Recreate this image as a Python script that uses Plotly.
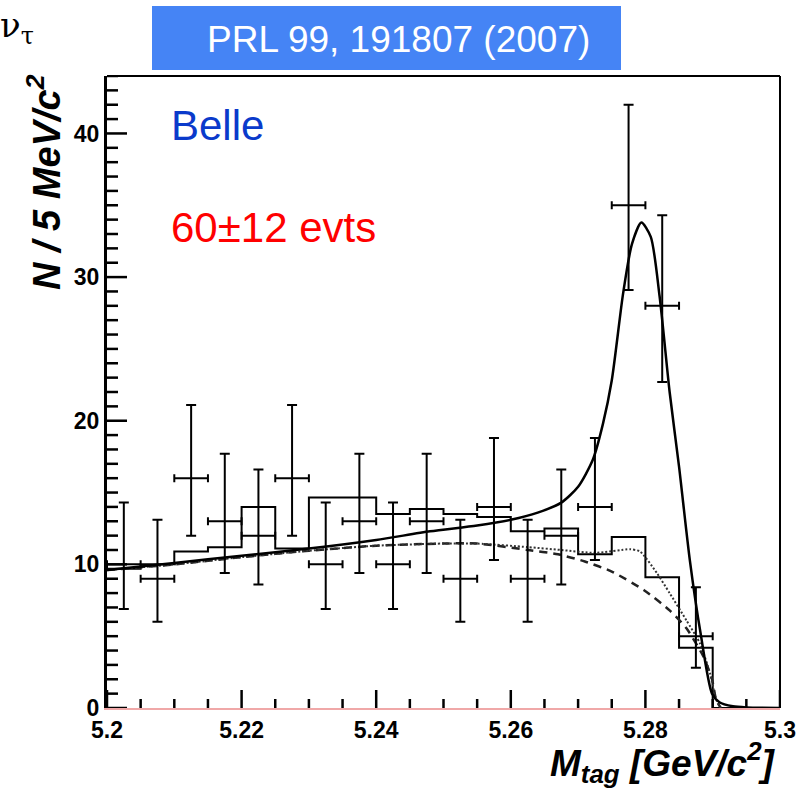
import plotly.graph_objects as go

# ---------------- data ----------------
# data points (bin centres, 5 MeV bins)
mtag_points = [5.2025, 5.2075, 5.2125, 5.2175, 5.2225, 5.2275, 5.2325, 5.2375, 5.2425,
               5.2475, 5.2525, 5.2575, 5.2625, 5.2675, 5.2725, 5.2775, 5.2825, 5.2875]
counts = [10, 9, 16, 13, 12, 16, 10, 13, 10, 13, 9, 14, 9, 12, 14, 35, 28, 5]
err_up = [4.3, 4.1, 5.1, 4.7, 4.6, 5.1, 4.3, 4.7, 4.3, 4.7, 4.1, 4.8, 4.1, 4.6, 4.8, 7.0, 6.3, 3.4]
err_dn = [3.1, 3.0, 4.0, 3.6, 3.4, 4.0, 3.1, 3.6, 3.1, 3.6, 3.0, 3.7, 3.0, 3.4, 3.7, 5.9, 5.3, 2.2]
bin_halfwidth = [0.0025] * len(mtag_points)

# histogram (bin edges, 20 bins)
hist_edges = [5.200, 5.205, 5.210, 5.215, 5.220, 5.225, 5.230, 5.235, 5.240, 5.245,
              5.250, 5.255, 5.260, 5.265, 5.270, 5.275, 5.280, 5.285, 5.290, 5.295, 5.300]
hist_vals = [9.7, 10.0, 10.9, 11.2, 14.0, 11.1, 14.65, 14.65, 13.5, 13.85,
             13.5, 13.3, 12.3, 12.5, 10.7, 11.9, 9.1, 4.2, 0.0, 0.0]

# total fit (solid)
fit_x = [5.200, 5.210, 5.220, 5.230, 5.240, 5.248, 5.255, 5.260, 5.264, 5.2675, 5.270,
         5.2722, 5.2737, 5.275, 5.2767, 5.278, 5.2794, 5.2808, 5.2821, 5.2836, 5.2850,
         5.2866, 5.2882, 5.2899, 5.291, 5.293, 5.295, 5.300]
fit_y = [9.6, 10.1, 10.6, 11.1, 11.7, 12.3, 12.7, 13.1, 13.6, 14.3, 15.4,
         17.3, 19.8, 22.8, 28.9, 32.3, 33.8, 32.8, 28.7, 22.0, 16.8,
         10.3, 5.2, 1.0, 0.4, 0.12, 0.04, 0.0]

# combinatorial background (dashed)
argus_x = [5.200, 5.210, 5.220, 5.230, 5.240, 5.250, 5.255, 5.2626, 5.2670, 5.2710,
           5.2750, 5.2798, 5.2836, 5.2861, 5.2886, 5.2899, 5.2905, 5.2912]
argus_y = [9.6, 10.0, 10.5, 10.95, 11.3, 11.45, 11.45, 11.0, 10.7, 10.2,
           9.5, 8.2, 6.8, 5.55, 3.6, 2.0, 0.6, 0.0]

# total background (dotted)
bkg_x = [5.200, 5.210, 5.220, 5.230, 5.240, 5.250, 5.255, 5.2626, 5.2675, 5.2725,
         5.2777, 5.2792, 5.2817, 5.2836, 5.2861, 5.2881, 5.2896, 5.2905, 5.2912]
bkg_y = [9.6, 10.0, 10.5, 10.95, 11.3, 11.45, 11.45, 11.2, 11.0, 10.8,
         11.05, 10.9, 9.4, 8.0, 6.1, 4.5, 2.4, 0.6, 0.0]

x_tickvals = [5.20, 5.22, 5.24, 5.26, 5.28, 5.30]
x_ticktext = ["5.2", "5.22", "5.24", "5.26", "5.28", "5.3"]
x_minor_per_major = 4
y_tickvals = [0, 10, 20, 30, 40]
y_minor_per_major = 10
y_max = 44.0

# ---------------- geometry helpers ----------------
W, H = 797, 791
L, R, T, B = 107, 780, 76, 708
x_lo, x_hi = x_tickvals[0], x_tickvals[-1]


def px(x):
    return (x - L) / (R - L)


def py(y):
    return (B - y) / (B - T)


fig = go.Figure()

# histogram as steps
fig.add_trace(go.Scatter(
    x=hist_edges, y=hist_vals + [hist_vals[-1]], mode="lines",
    line=dict(color="black", width=2, shape="hv"), hoverinfo="skip"))

# dashed and dotted backgrounds
fig.add_trace(go.Scatter(
    x=argus_x, y=argus_y, mode="lines",
    line=dict(color="#222222", width=2.5, dash="8px,6px", shape="spline", smoothing=0.6)))
fig.add_trace(go.Scatter(
    x=bkg_x, y=bkg_y, mode="lines",
    line=dict(color="#333333", width=2, dash="2px,2px", shape="spline", smoothing=0.6)))

# total fit
fig.add_trace(go.Scatter(
    x=fit_x, y=fit_y, mode="lines",
    line=dict(color="black", width=2.5, shape="spline", smoothing=0.7)))

# data points with error bars
fig.add_trace(go.Scatter(
    x=mtag_points, y=counts, mode="markers",
    marker=dict(size=1, color="black"),
    error_x=dict(type="data", array=bin_halfwidth, color="black", thickness=2, width=4),
    error_y=dict(type="data", array=err_up, arrayminus=err_dn, symmetric=False,
                 color="black", thickness=2, width=5)))

# ---- inward ticks (ROOT style) built from the tick arrays, drawn as one line trace ----
x_per_px = (x_hi - x_lo) / (R - L)
y_per_px = y_max / (B - T)
tx, ty = [], []
x_step = (x_tickvals[1] - x_tickvals[0]) / x_minor_per_major
n_x = round((x_hi - x_lo) / x_step)
for i in range(n_x + 1):
    xv = x_lo + i * x_step
    ln = 18 if i % x_minor_per_major == 0 else 9
    tx += [xv, xv, None]
    ty += [0, ln * y_per_px, None]
y_step = (y_tickvals[1] - y_tickvals[0]) / y_minor_per_major
n_y = int(round(y_max / y_step))
for i in range(n_y + 1):
    yv = y_tickvals[0] + i * y_step
    ln = 20 if i % y_minor_per_major == 0 else 11
    tx += [x_lo, x_lo + ln * x_per_px, None]
    ty += [yv, yv, None]
fig.add_trace(go.Scatter(x=tx, y=ty, mode="lines", line=dict(color="#000000", width=2.5),
                         connectgaps=False, hoverinfo="skip", cliponaxis=False))

tickfont = dict(family="Liberation Sans", size=23, color="black", weight="bold")

fig.update_layout(
    width=W, height=H,
    margin=dict(l=L, r=W - R, t=T, b=H - B, autoexpand=False),
    paper_bgcolor="white", plot_bgcolor="white",
    showlegend=False,
    xaxis=dict(range=[x_lo, x_hi], tickmode="array",
               tickvals=x_tickvals, ticktext=x_ticktext, ticks="",
               showgrid=False, zeroline=False, showline=True, linecolor="#f0a8a8", linewidth=2,
               tickfont=tickfont, automargin=False),
    yaxis=dict(range=[0, y_max], tickmode="array", tickvals=y_tickvals, ticks="",
               showgrid=False, zeroline=False, showline=True, linecolor="black", linewidth=3,
               tickfont=tickfont, automargin=False),
)

# frame top & right
fig.add_shape(type="line", xref="paper", yref="paper", x0=0, x1=1, y0=1, y1=1,
              line=dict(color="black", width=2))
fig.add_shape(type="line", xref="paper", yref="paper", x0=1, x1=1, y0=0, y1=1,
              line=dict(color="black", width=2))

# blue banner
fig.add_shape(type="rect", xref="paper", yref="paper",
              x0=px(152), x1=px(621), y0=py(70), y1=py(6),
              fillcolor="#4584F5", line=dict(width=0), layer="above")
fig.add_annotation(xref="paper", yref="paper", x=px(398), y=py(40),
                   text="PRL 99, 191807 (2007)", showarrow=False,
                   font=dict(family="Liberation Sans", size=37, color="white"),
                   xanchor="center", yanchor="middle")

# nu_tau
fig.add_annotation(xref="paper", yref="paper", x=px(-2), y=py(27),
                   text="ν<sub>τ</sub>", showarrow=False,
                   font=dict(family="DejaVu Serif", size=34, color="black"),
                   xanchor="left", yanchor="middle")

# Belle and yield
fig.add_annotation(xref="paper", yref="paper", x=px(169), y=py(126),
                   text="Belle", showarrow=False,
                   font=dict(family="Liberation Sans", size=42, color="#0A3ACB"),
                   xanchor="left", yanchor="middle")
fig.add_annotation(xref="paper", yref="paper", x=px(169), y=py(227),
                   text="60±12 evts", showarrow=False,
                   font=dict(family="Liberation Sans", size=42, color="#FF0000"),
                   xanchor="left", yanchor="middle")

# axis titles
fig.add_annotation(xref="paper", yref="paper", x=px(44), y=py(182),
                   text="<b><i>N / 5 MeV/c<sup>2</sup></i></b>", showarrow=False, textangle=-90,
                   font=dict(family="Liberation Sans", size=38, color="black"),
                   xanchor="center", yanchor="middle")
fig.add_annotation(xref="paper", yref="paper", x=px(778), y=py(762),
                   text="<b><i>M<sub>tag</sub> [GeV/c<sup>2</sup>]</i></b>", showarrow=False,
                   font=dict(family="Liberation Sans", size=37, color="black"),
                   xanchor="right", yanchor="middle")

fig.write_html("out.html")
